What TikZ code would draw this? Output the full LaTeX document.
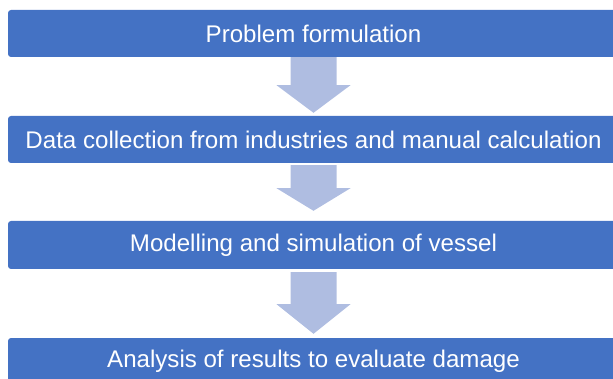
\documentclass[tikz,border=0pt]{standalone}
\usepackage{fontspec}
\setmainfont{Liberation Sans}
\usetikzlibrary{calc}
\definecolor{boxblue}{RGB}{68,114,196}
\definecolor{arrowc}{RGB}{175,189,225}
\tikzset{
  stepbox/.style={rectangle, rounded corners=3pt, fill=boxblue, text=white,
    minimum width=611pt, minimum height=47pt, inner sep=0pt,
    font=\fontsize{24.1}{28}\selectfont},
}
% #1 from node, #2 to node, #3 top gap, #4 shaft length, #5 tip gap
\newcommand\flowarr[5]{%
  \fill[arrowc] let \p1=(#1.south), \p2=(#2.north) in
    (\x1-23pt,\y1-#3pt) -- (\x1+23pt,\y1-#3pt) -- (\x1+23pt,\y1-#3pt-#4pt)
    -- (\x1+37pt,\y1-#3pt-#4pt) -- (\x1,\y2+#5pt) -- (\x1-37pt,\y1-#3pt-#4pt)
    -- (\x1-23pt,\y1-#3pt-#4pt) -- cycle;}
\begin{document}
\begin{tikzpicture}[x=1pt,y=-1pt]
\useasboundingbox (0,0) rectangle (613,379);
\clip (0,0) rectangle (613,379);
\node[stepbox] (b1) at (313.5,33.5) {Problem formulation};
\node[stepbox] (b2) at (313.5,139.5) {Data collection from industries and manual calculation};
\node[stepbox, minimum height=48pt] (b3) at (313.5,245) {Modelling and simulation of vessel};
\node[stepbox] (b4) at (313.5,361.5) {Analysis of results to evaluate damage};
\flowarr{b1}{b2}{0}{28}{3}
\flowarr{b2}{b3}{2}{23}{10}
\flowarr{b3}{b4}{3}{32}{4}
\end{tikzpicture}
\end{document}
